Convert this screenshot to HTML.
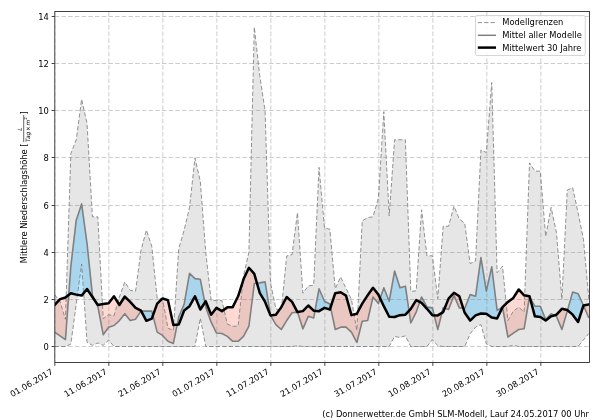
<!DOCTYPE html>
<html lang="de"><head><meta charset="utf-8"><title>Mittlere Niederschlagshöhe</title>
<style>html,body{margin:0;padding:0;background:#fff;}body{width:600px;height:420px;overflow:hidden;}svg{display:block;}</style>
</head><body>
<svg width="600" height="420" viewBox="0 0 600 420">
<rect width="600" height="420" fill="#fff"/>
<defs><clipPath id="ax"><rect x="54.8" y="11.5" width="534.7" height="351.0"/></clipPath></defs>
<g clip-path="url(#ax)">
<path d="M54.65 294.64 L60.05 301.71 L65.44 319.39 L70.84 153.69 L76.23 139.78 L81.63 99.24 L87.03 123.51 L92.42 216.86 L97.82 216.86 L103.21 318.69 L108.61 314.68 L114.01 315.86 L119.40 297.00 L124.80 281.91 L130.19 290.40 L135.59 291.11 L140.99 250.33 L146.38 230.06 L151.78 246.09 L157.17 297.94 L162.57 299.36 L167.97 328.11 L173.36 330.47 L178.76 248.68 L184.15 230.06 L189.55 207.43 L194.95 157.93 L200.34 181.50 L205.74 252.21 L211.13 300.54 L216.53 300.54 L221.93 300.54 L227.32 324.11 L232.72 326.23 L238.11 326.23 L243.51 275.79 L248.91 252.21 L254.30 27.11 L259.70 75.43 L265.09 110.79 L270.49 282.86 L275.89 308.79 L281.28 310.44 L286.68 255.99 L292.07 254.57 L297.47 212.61 L302.87 293.23 L308.26 285.92 L313.66 285.21 L319.05 167.36 L324.45 227.70 L329.85 229.35 L335.24 288.75 L340.64 276.96 L346.03 288.28 L351.43 299.36 L356.83 330.47 L362.22 220.86 L367.62 217.56 L373.01 216.86 L378.41 198.00 L383.81 111.73 L389.20 215.68 L394.60 139.78 L399.99 139.78 L405.39 139.78 L410.79 291.34 L416.18 290.87 L421.58 209.79 L426.97 255.99 L432.37 255.75 L437.77 298.65 L443.16 226.29 L448.56 226.29 L453.95 206.25 L459.35 218.98 L464.75 223.46 L470.14 263.53 L475.54 261.17 L480.93 149.91 L486.33 152.51 L491.73 82.50 L497.12 272.72 L502.52 266.12 L507.91 320.57 L513.31 311.14 L518.71 307.14 L524.10 312.09 L529.50 162.88 L534.89 171.13 L540.29 171.13 L545.69 236.42 L551.08 207.43 L556.48 232.65 L561.87 299.36 L567.27 189.99 L572.67 187.63 L578.06 212.61 L583.46 239.25 L588.85 299.36 L588.85 333.54 L583.46 339.90 L578.06 346.50 L572.67 346.50 L567.27 346.50 L561.87 346.50 L556.48 346.50 L551.08 346.50 L545.69 346.50 L540.29 346.50 L534.89 346.50 L529.50 346.50 L524.10 346.50 L518.71 346.50 L513.31 345.32 L507.91 346.50 L502.52 346.50 L497.12 346.50 L491.73 346.50 L486.33 343.91 L480.93 324.58 L475.54 327.17 L470.14 333.77 L464.75 346.50 L459.35 346.50 L453.95 346.50 L448.56 346.50 L443.16 346.50 L437.77 345.56 L432.37 339.66 L426.97 346.50 L421.58 346.50 L416.18 346.50 L410.79 346.50 L405.39 335.89 L399.99 337.54 L394.60 336.36 L389.20 346.50 L383.81 346.50 L378.41 346.50 L373.01 346.50 L367.62 346.50 L362.22 346.50 L356.83 346.50 L351.43 346.50 L346.03 346.50 L340.64 346.50 L335.24 346.50 L329.85 346.50 L324.45 346.50 L319.05 346.50 L313.66 346.50 L308.26 346.50 L302.87 346.50 L297.47 345.79 L292.07 346.50 L286.68 346.50 L281.28 346.50 L275.89 346.50 L270.49 346.50 L265.09 346.50 L259.70 346.50 L254.30 346.50 L248.91 346.50 L243.51 346.50 L238.11 346.50 L232.72 346.50 L227.32 346.50 L221.93 346.50 L216.53 346.50 L211.13 346.50 L205.74 346.50 L200.34 318.21 L194.95 346.50 L189.55 346.50 L184.15 346.50 L178.76 346.50 L173.36 346.50 L167.97 346.50 L162.57 346.50 L157.17 346.50 L151.78 346.50 L146.38 346.50 L140.99 346.50 L135.59 346.50 L130.19 346.50 L124.80 346.50 L119.40 346.50 L114.01 346.50 L108.61 340.14 L103.21 345.32 L97.82 342.96 L92.42 345.32 L87.03 342.26 L81.63 264.00 L76.23 304.07 L70.84 344.14 L65.44 346.50 L60.05 346.50 L54.65 346.50Z" fill="#808080" fill-opacity="0.2"/>
<path d="M68.74 294.88 L70.84 266.36 L76.23 220.16 L81.63 203.89 L87.03 243.49 L92.42 295.35 L95.33 301.32 L95.33 301.32 L92.42 297.00 L87.03 288.99 L81.63 295.59 L76.23 294.64 L70.84 293.23 L68.74 294.88Z M141.24 311.14 L146.38 311.14 L151.78 311.14 L152.91 315.53 L152.91 315.53 L151.78 318.69 L146.38 320.81 L141.24 311.14Z M177.19 324.72 L178.76 317.04 L184.15 304.07 L189.55 273.43 L194.95 278.61 L200.34 279.32 L204.86 302.59 L204.86 302.59 L200.34 309.49 L194.95 296.29 L189.55 306.19 L184.15 310.44 L178.76 324.58 L177.19 324.72Z M256.97 283.22 L259.70 282.86 L265.09 281.91 L270.49 315.39 L270.49 315.39 L265.09 301.95 L259.70 292.76 L256.97 283.22Z M314.99 310.79 L319.05 288.75 L324.45 301.24 L329.85 304.07 L330.55 307.38 L330.55 307.38 L329.85 309.49 L324.45 307.84 L319.05 311.14 L314.99 310.79Z M380.18 298.43 L383.81 287.81 L389.20 301.24 L394.60 271.07 L399.99 287.81 L405.39 286.16 L409.00 310.74 L409.00 310.74 L405.39 314.68 L399.99 315.15 L394.60 317.04 L389.20 316.80 L383.81 306.19 L380.18 298.43Z M419.80 301.96 L421.58 297.00 L426.97 307.14 L432.37 307.84 L434.21 315.23 L434.21 315.23 L432.37 315.15 L426.97 308.79 L421.58 302.89 L419.80 301.96Z M441.92 312.85 L443.16 307.84 L444.68 308.31 L444.68 308.31 L443.16 312.09 L441.92 312.85Z M463.24 308.18 L464.75 308.31 L470.14 294.64 L475.54 296.29 L480.93 257.64 L486.33 291.11 L491.73 266.83 L497.12 310.44 L502.52 307.14 L502.52 307.14 L497.12 318.45 L491.73 317.51 L486.33 313.74 L480.93 313.50 L475.54 315.39 L470.14 320.57 L464.75 312.79 L463.24 308.18Z M529.85 297.60 L534.89 306.19 L540.29 306.19 L545.69 319.63 L551.08 313.74 L554.38 315.32 L554.38 315.32 L551.08 316.33 L545.69 320.57 L540.29 317.04 L534.89 316.33 L529.85 297.60Z M567.54 310.20 L572.67 292.05 L578.06 293.70 L583.46 305.49 L583.46 305.49 L578.06 321.99 L572.67 314.68 L567.54 310.20Z" fill="#1eb4ff" fill-opacity="0.3"/>
<path d="M54.65 332.12 L60.05 335.89 L65.44 339.66 L68.74 294.88 L68.74 294.88 L65.44 297.47 L60.05 299.12 L54.65 305.01Z M95.33 301.32 L97.82 306.43 L103.21 334.71 L108.61 327.17 L114.01 325.52 L119.40 320.57 L124.80 313.74 L130.19 320.57 L135.59 319.16 L140.99 311.14 L141.24 311.14 L141.24 311.14 L140.99 310.67 L135.59 307.84 L130.19 301.95 L124.80 296.53 L119.40 305.01 L114.01 296.29 L108.61 303.36 L103.21 304.07 L97.82 305.01 L95.33 301.32Z M152.91 315.53 L157.17 332.12 L162.57 335.42 L167.97 341.31 L173.36 343.44 L177.19 324.72 L177.19 324.72 L173.36 325.05 L167.97 300.30 L162.57 298.41 L157.17 303.60 L152.91 315.53Z M204.86 302.59 L205.74 307.14 L211.13 322.22 L216.53 333.06 L221.93 333.54 L227.32 336.36 L232.72 341.31 L238.11 341.31 L243.51 336.36 L248.91 326.23 L254.30 283.56 L256.97 283.22 L256.97 283.22 L254.30 273.90 L248.91 267.77 L243.51 279.32 L238.11 296.29 L232.72 307.14 L227.32 307.37 L221.93 311.14 L216.53 307.84 L211.13 314.68 L205.74 301.24 L204.86 302.59Z M270.49 315.39 L275.89 324.58 L281.28 329.53 L286.68 320.57 L292.07 312.79 L297.47 312.09 L297.47 312.09 L292.07 301.95 L286.68 297.00 L281.28 307.14 L275.89 314.68 L270.49 315.39Z M297.47 312.09 L302.87 328.82 L308.26 316.33 L313.66 317.98 L314.99 310.79 L314.99 310.79 L313.66 310.67 L308.26 305.49 L302.87 311.14 L297.47 312.09Z M330.55 307.38 L335.24 329.53 L340.64 327.17 L346.03 327.17 L351.43 332.12 L356.83 342.49 L362.22 321.28 L367.62 320.57 L373.01 297.00 L378.41 303.60 L380.18 298.43 L380.18 298.43 L378.41 294.64 L373.01 287.81 L367.62 295.35 L362.22 303.60 L356.83 313.74 L351.43 315.15 L346.03 295.59 L340.64 292.29 L335.24 293.23 L330.55 307.38Z M409.00 310.74 L410.79 322.93 L416.18 312.09 L419.80 301.96 L419.80 301.96 L416.18 300.06 L410.79 308.79 L409.00 310.74Z M434.21 315.23 L437.77 329.53 L441.92 312.85 L441.92 312.85 L437.77 315.39 L434.21 315.23Z M444.68 308.31 L448.56 309.49 L453.95 295.35 L459.35 307.84 L463.24 308.18 L463.24 308.18 L459.35 296.29 L453.95 292.76 L448.56 298.65 L444.68 308.31Z M502.52 307.14 L507.91 337.07 L513.31 333.06 L518.71 329.53 L524.10 328.82 L529.50 297.00 L529.85 297.60 L529.85 297.60 L529.50 296.29 L524.10 295.35 L518.71 289.46 L513.31 297.94 L507.91 301.95 L502.52 307.14Z M554.38 315.32 L556.48 316.33 L561.87 329.53 L567.27 311.14 L567.54 310.20 L567.54 310.20 L567.27 309.96 L561.87 308.79 L556.48 314.68 L554.38 315.32Z M583.46 305.49 L588.85 317.98 L588.85 304.54 L583.46 305.49Z" fill="#fa8072" fill-opacity="0.3"/>
<path d="M54.85 11.5V362.5 M108.85 11.5V362.5 M162.85 11.5V362.5 M216.85 11.5V362.5 M270.85 11.5V362.5 M324.85 11.5V362.5 M378.85 11.5V362.5 M432.85 11.5V362.5 M486.85 11.5V362.5 M540.85 11.5V362.5 M54.8 346.50H589.5 M54.8 299.50H589.5 M54.8 252.50H589.5 M54.8 205.50H589.5 M54.8 157.50H589.5 M54.8 110.50H589.5 M54.8 63.50H589.5 M54.8 16.50H589.5" stroke="#808080" stroke-opacity="0.4" stroke-width="1" stroke-dasharray="4.5 2.2" fill="none"/>
<polyline points="54.65,294.64 60.05,301.71 65.44,319.39 70.84,153.69 76.23,139.78 81.63,99.24 87.03,123.51 92.42,216.86 97.82,216.86 103.21,318.69 108.61,314.68 114.01,315.86 119.40,297.00 124.80,281.91 130.19,290.40 135.59,291.11 140.99,250.33 146.38,230.06 151.78,246.09 157.17,297.94 162.57,299.36 167.97,328.11 173.36,330.47 178.76,248.68 184.15,230.06 189.55,207.43 194.95,157.93 200.34,181.50 205.74,252.21 211.13,300.54 216.53,300.54 221.93,300.54 227.32,324.11 232.72,326.23 238.11,326.23 243.51,275.79 248.91,252.21 254.30,27.11 259.70,75.43 265.09,110.79 270.49,282.86 275.89,308.79 281.28,310.44 286.68,255.99 292.07,254.57 297.47,212.61 302.87,293.23 308.26,285.92 313.66,285.21 319.05,167.36 324.45,227.70 329.85,229.35 335.24,288.75 340.64,276.96 346.03,288.28 351.43,299.36 356.83,330.47 362.22,220.86 367.62,217.56 373.01,216.86 378.41,198.00 383.81,111.73 389.20,215.68 394.60,139.78 399.99,139.78 405.39,139.78 410.79,291.34 416.18,290.87 421.58,209.79 426.97,255.99 432.37,255.75 437.77,298.65 443.16,226.29 448.56,226.29 453.95,206.25 459.35,218.98 464.75,223.46 470.14,263.53 475.54,261.17 480.93,149.91 486.33,152.51 491.73,82.50 497.12,272.72 502.52,266.12 507.91,320.57 513.31,311.14 518.71,307.14 524.10,312.09 529.50,162.88 534.89,171.13 540.29,171.13 545.69,236.42 551.08,207.43 556.48,232.65 561.87,299.36 567.27,189.99 572.67,187.63 578.06,212.61 583.46,239.25 588.85,299.36" fill="none" stroke="#808080" stroke-width="0.85" stroke-dasharray="4.2 2.2"/>
<polyline points="54.65,346.50 60.05,346.50 65.44,346.50 70.84,344.14 76.23,304.07 81.63,264.00 87.03,342.26 92.42,345.32 97.82,342.96 103.21,345.32 108.61,340.14 114.01,346.50 119.40,346.50 124.80,346.50 130.19,346.50 135.59,346.50 140.99,346.50 146.38,346.50 151.78,346.50 157.17,346.50 162.57,346.50 167.97,346.50 173.36,346.50 178.76,346.50 184.15,346.50 189.55,346.50 194.95,346.50 200.34,318.21 205.74,346.50 211.13,346.50 216.53,346.50 221.93,346.50 227.32,346.50 232.72,346.50 238.11,346.50 243.51,346.50 248.91,346.50 254.30,346.50 259.70,346.50 265.09,346.50 270.49,346.50 275.89,346.50 281.28,346.50 286.68,346.50 292.07,346.50 297.47,345.79 302.87,346.50 308.26,346.50 313.66,346.50 319.05,346.50 324.45,346.50 329.85,346.50 335.24,346.50 340.64,346.50 346.03,346.50 351.43,346.50 356.83,346.50 362.22,346.50 367.62,346.50 373.01,346.50 378.41,346.50 383.81,346.50 389.20,346.50 394.60,336.36 399.99,337.54 405.39,335.89 410.79,346.50 416.18,346.50 421.58,346.50 426.97,346.50 432.37,339.66 437.77,345.56 443.16,346.50 448.56,346.50 453.95,346.50 459.35,346.50 464.75,346.50 470.14,333.77 475.54,327.17 480.93,324.58 486.33,343.91 491.73,346.50 497.12,346.50 502.52,346.50 507.91,346.50 513.31,345.32 518.71,346.50 524.10,346.50 529.50,346.50 534.89,346.50 540.29,346.50 545.69,346.50 551.08,346.50 556.48,346.50 561.87,346.50 567.27,346.50 572.67,346.50 578.06,346.50 583.46,339.90 588.85,333.54" fill="none" stroke="#808080" stroke-width="0.85" stroke-dasharray="4.2 2.2"/>
<polyline points="54.65,332.12 60.05,335.89 65.44,339.66 70.84,266.36 76.23,220.16 81.63,203.89 87.03,243.49 92.42,295.35 97.82,306.43 103.21,334.71 108.61,327.17 114.01,325.52 119.40,320.57 124.80,313.74 130.19,320.57 135.59,319.16 140.99,311.14 146.38,311.14 151.78,311.14 157.17,332.12 162.57,335.42 167.97,341.31 173.36,343.44 178.76,317.04 184.15,304.07 189.55,273.43 194.95,278.61 200.34,279.32 205.74,307.14 211.13,322.22 216.53,333.06 221.93,333.54 227.32,336.36 232.72,341.31 238.11,341.31 243.51,336.36 248.91,326.23 254.30,283.56 259.70,282.86 265.09,281.91 270.49,315.39 275.89,324.58 281.28,329.53 286.68,320.57 292.07,312.79 297.47,312.09 302.87,328.82 308.26,316.33 313.66,317.98 319.05,288.75 324.45,301.24 329.85,304.07 335.24,329.53 340.64,327.17 346.03,327.17 351.43,332.12 356.83,342.49 362.22,321.28 367.62,320.57 373.01,297.00 378.41,303.60 383.81,287.81 389.20,301.24 394.60,271.07 399.99,287.81 405.39,286.16 410.79,322.93 416.18,312.09 421.58,297.00 426.97,307.14 432.37,307.84 437.77,329.53 443.16,307.84 448.56,309.49 453.95,295.35 459.35,307.84 464.75,308.31 470.14,294.64 475.54,296.29 480.93,257.64 486.33,291.11 491.73,266.83 497.12,310.44 502.52,307.14 507.91,337.07 513.31,333.06 518.71,329.53 524.10,328.82 529.50,297.00 534.89,306.19 540.29,306.19 545.69,319.63 551.08,313.74 556.48,316.33 561.87,329.53 567.27,311.14 572.67,292.05 578.06,293.70 583.46,305.49 588.85,317.98" fill="none" stroke="#808080" stroke-width="1.6" stroke-linejoin="round"/>
<polyline points="54.65,305.01 60.05,299.12 65.44,297.47 70.84,293.23 76.23,294.64 81.63,295.59 87.03,288.99 92.42,297.00 97.82,305.01 103.21,304.07 108.61,303.36 114.01,296.29 119.40,305.01 124.80,296.53 130.19,301.95 135.59,307.84 140.99,310.67 146.38,320.81 151.78,318.69 157.17,303.60 162.57,298.41 167.97,300.30 173.36,325.05 178.76,324.58 184.15,310.44 189.55,306.19 194.95,296.29 200.34,309.49 205.74,301.24 211.13,314.68 216.53,307.84 221.93,311.14 227.32,307.37 232.72,307.14 238.11,296.29 243.51,279.32 248.91,267.77 254.30,273.90 259.70,292.76 265.09,301.95 270.49,315.39 275.89,314.68 281.28,307.14 286.68,297.00 292.07,301.95 297.47,312.09 302.87,311.14 308.26,305.49 313.66,310.67 319.05,311.14 324.45,307.84 329.85,309.49 335.24,293.23 340.64,292.29 346.03,295.59 351.43,315.15 356.83,313.74 362.22,303.60 367.62,295.35 373.01,287.81 378.41,294.64 383.81,306.19 389.20,316.80 394.60,317.04 399.99,315.15 405.39,314.68 410.79,308.79 416.18,300.06 421.58,302.89 426.97,308.79 432.37,315.15 437.77,315.39 443.16,312.09 448.56,298.65 453.95,292.76 459.35,296.29 464.75,312.79 470.14,320.57 475.54,315.39 480.93,313.50 486.33,313.74 491.73,317.51 497.12,318.45 502.52,307.14 507.91,301.95 513.31,297.94 518.71,289.46 524.10,295.35 529.50,296.29 534.89,316.33 540.29,317.04 545.69,320.57 551.08,316.33 556.48,314.68 561.87,308.79 567.27,309.96 572.67,314.68 578.06,321.99 583.46,305.49 588.85,304.54" fill="none" stroke="#000" stroke-width="2.5" stroke-linejoin="round" stroke-linecap="square"/>
</g>
<rect x="54.8" y="11.5" width="534.7" height="351.0" fill="none" stroke="#222" stroke-width="0.85"/>
<path d="M54.85 362.5v3.4 M108.85 362.5v3.4 M162.85 362.5v3.4 M216.85 362.5v3.4 M270.85 362.5v3.4 M324.85 362.5v3.4 M378.85 362.5v3.4 M432.85 362.5v3.4 M486.85 362.5v3.4 M540.85 362.5v3.4 M54.8 346.50h-3.2 M54.8 299.50h-3.2 M54.8 252.50h-3.2 M54.8 205.50h-3.2 M54.8 157.50h-3.2 M54.8 110.50h-3.2 M54.8 63.50h-3.2 M54.8 16.50h-3.2" stroke="#222" stroke-width="0.85" fill="none"/>
<g font-family="DejaVu Sans, Liberation Sans, sans-serif" font-size="8.33" fill="#000">
<text x="48.9" y="349.70" text-anchor="end">0</text>
<text x="48.9" y="302.70" text-anchor="end">2</text>
<text x="48.9" y="255.70" text-anchor="end">4</text>
<text x="48.9" y="208.70" text-anchor="end">6</text>
<text x="48.9" y="160.70" text-anchor="end">8</text>
<text x="48.9" y="113.70" text-anchor="end">10</text>
<text x="48.9" y="66.70" text-anchor="end">12</text>
<text x="48.9" y="19.70" text-anchor="end">14</text>
<text transform="translate(50.45 368.10) rotate(-30)" text-anchor="end" dy="6.2">01.06.2017</text>
<text transform="translate(104.45 368.10) rotate(-30)" text-anchor="end" dy="6.2">11.06.2017</text>
<text transform="translate(158.45 368.10) rotate(-30)" text-anchor="end" dy="6.2">21.06.2017</text>
<text transform="translate(212.45 368.10) rotate(-30)" text-anchor="end" dy="6.2">01.07.2017</text>
<text transform="translate(266.45 368.10) rotate(-30)" text-anchor="end" dy="6.2">11.07.2017</text>
<text transform="translate(320.45 368.10) rotate(-30)" text-anchor="end" dy="6.2">21.07.2017</text>
<text transform="translate(374.45 368.10) rotate(-30)" text-anchor="end" dy="6.2">31.07.2017</text>
<text transform="translate(428.45 368.10) rotate(-30)" text-anchor="end" dy="6.2">10.08.2017</text>
<text transform="translate(482.45 368.10) rotate(-30)" text-anchor="end" dy="6.2">20.08.2017</text>
<text transform="translate(536.45 368.10) rotate(-30)" text-anchor="end" dy="6.2">30.08.2017</text>
<g transform="translate(26.6 263.3) rotate(-90)"><text x="0" y="0">Mittlere Niederschlagshöhe [</text><text x="134.1" y="-4.5" font-size="5.83" font-style="italic" text-anchor="middle">L</text><path d="M121.2 -2.9H148.2" stroke="#000" stroke-width="0.6"/><text y="3.2" font-size="5.83" font-style="italic"><tspan x="121.3">Tag</tspan><tspan dx="0.7" font-style="normal">×</tspan><tspan dx="0.7">m</tspan><tspan dy="-2.4" font-size="4.1" font-style="normal">2</tspan></text><text x="148.9" y="0">]</text></g>
<text x="589" y="417" text-anchor="end">(c) Donnerwetter.de GmbH SLM-Modell, Lauf 24.05.2017 00 Uhr</text>
<rect x="475.5" y="15.5" width="109.8" height="40" rx="1.6" fill="#fff" fill-opacity="0.8" stroke="#ccc" stroke-width="0.8"/>
<path d="M477.8 22.6H496" stroke="#808080" stroke-width="0.85" stroke-dasharray="4.2 2.2"/>
<path d="M477.8 35.3H496" stroke="#808080" stroke-width="1.5"/>
<path d="M477.8 47.6H496" stroke="#000" stroke-width="2.5"/>
<text x="502.3" y="25.4">Modellgrenzen</text>
<text x="502.3" y="38.1">Mittel aller Modelle</text>
<text x="502.3" y="50.7">Mittelwert 30 Jahre</text>
</g>
</svg>
</body></html>
